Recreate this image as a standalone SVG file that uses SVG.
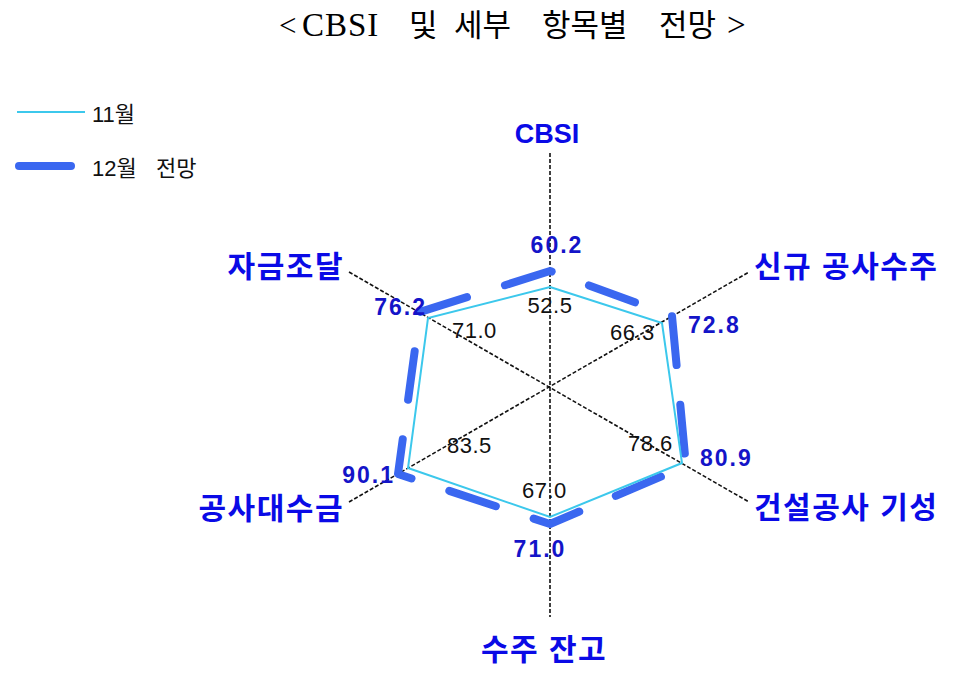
<svg xmlns="http://www.w3.org/2000/svg" width="960" height="674" viewBox="0 0 960 674">
<style>
.title{font-family:"Liberation Serif","Noto Sans CJK KR",serif;font-size:31px;fill:#000}
.lat{font-size:33px}
.axlbl{font-family:"Liberation Sans","Noto Sans CJK KR",sans-serif;font-size:30px;font-weight:bold;fill:#0a0ae6;letter-spacing:1.5px}
.cbsi{font-family:"Liberation Sans","Noto Sans CJK KR",sans-serif;font-size:27px;font-weight:bold;fill:#0a0ae6}
.v12{font-family:"Liberation Sans",sans-serif;font-size:23px;font-weight:bold;fill:#1414c8;letter-spacing:2px}
.v11{font-family:"Liberation Sans",sans-serif;font-size:22px;fill:#111;letter-spacing:0.5px}
.leg{font-family:"Liberation Sans","Noto Sans CJK KR",sans-serif;font-size:22px;fill:#111}
.axis{stroke:#111;stroke-width:1.6;stroke-dasharray:4 2;fill:none}
.s11{stroke:#3cc8ec;stroke-width:2;fill:none;stroke-linejoin:miter}
.s12{stroke:#3a67f0;stroke-width:8;fill:none;stroke-linecap:round;stroke-linejoin:round}
</style>
<rect width="960" height="674" fill="#fff"/>
<text class="title" y="36"><tspan x="279">&lt;</tspan><tspan class="lat" x="302" style="letter-spacing:1px">CBSI</tspan><tspan x="409">및</tspan><tspan x="454">세부</tspan><tspan x="542">항목별</tspan><tspan x="659">전망</tspan><tspan class="lat" x="727">&gt;</tspan></text>
<g id="legend">
<line x1="17" y1="112" x2="85" y2="112" class="s11"/>
<text class="leg" x="92" y="122">11월</text>
<line x1="19" y1="166" x2="71" y2="166" class="s12"/>
<text class="leg" x="92" y="176">12월</text>
<text class="leg" x="156" y="176">전망</text>
</g>
<g id="connectors">
<line class="axis" x1="550" y1="153" x2="550" y2="617"/>
<line class="axis" x1="349" y1="272" x2="749" y2="502"/>
<line class="axis" x1="349" y1="502" x2="749" y2="272"/>
</g>
<g id="series-12">
<path class="s12" d="M398,474 L550,524 L686,466 L672,316 L550,271 L420,312 Z" stroke-dasharray="49 39.8" stroke-dashoffset="34.8"/>
</g>
<g id="series-11">
<path class="s11" d="M550,287 L662,323 L682,463 L550,517 L408,468 L428,318 Z"/>
</g>
<g id="node-cbsi">
<text class="cbsi" x="547" y="143" text-anchor="middle">CBSI</text>
<text class="v12" x="557" y="253" text-anchor="middle">60.2</text>
<text class="v11" x="550" y="313" text-anchor="middle">52.5</text>
</g>
<g id="node-new-orders">
<text class="axlbl" x="754" y="277">신규 공사수주</text>
<text class="v12" x="688" y="333">72.8</text>
<text class="v11" x="610" y="340">66.3</text>
</g>
<g id="node-progress">
<text class="axlbl" x="754" y="518">건설공사 기성</text>
<text class="v12" x="700" y="466">80.9</text>
<text class="v11" x="628" y="451">78.6</text>
</g>
<g id="node-backlog">
<text class="axlbl" x="544" y="660" text-anchor="middle">수주 잔고</text>
<text class="v12" x="540" y="557" text-anchor="middle">71.0</text>
<text class="v11" x="522" y="498">67.0</text>
</g>
<g id="node-payment">
<text class="axlbl" x="344" y="519" text-anchor="end">공사대수금</text>
<text class="v12" x="395" y="483" text-anchor="end">90.1</text>
<text class="v11" x="447" y="453">83.5</text>
</g>
<g id="node-funding">
<text class="axlbl" x="344" y="277" text-anchor="end">자금조달</text>
<text class="v12" x="427" y="315" text-anchor="end">76.2</text>
<text class="v11" x="452" y="338">71.0</text>
</g>
</svg>
